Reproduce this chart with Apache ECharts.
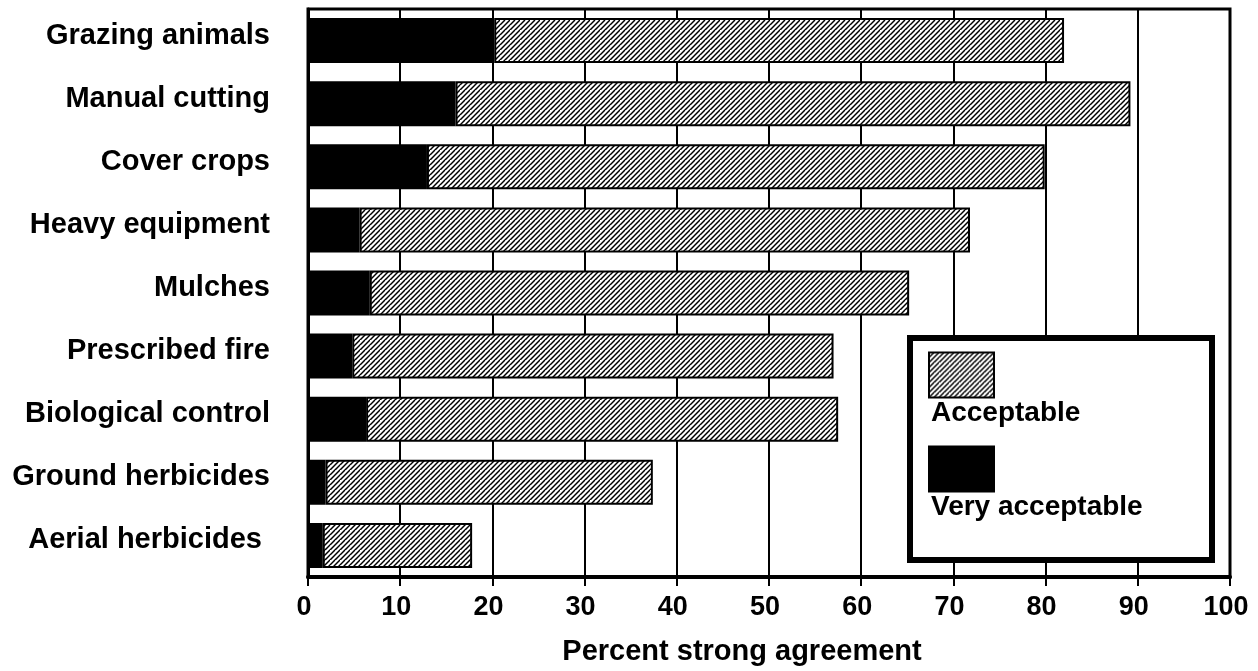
<!DOCTYPE html>
<html>
<head>
<meta charset="utf-8">
<script src="https://cdn.jsdelivr.net/npm/echarts@6/dist/echarts.min.js"></script>
<style>
html,body{margin:0;padding:0;background:#fff;}
#chart{width:1258px;height:671px;}
</style>
</head>
<body>
<div id="chart"></div>
<script>
const categories = ['Grazing animals','Manual cutting','Cover crops','Heavy equipment','Mulches','Prescribed fire','Biological control','Ground herbicides','Aerial herbicides '];
const veryAcceptable = [20.2, 16.0, 12.9, 5.6, 6.7, 4.8, 6.3, 1.9, 1.6];
const acceptable = [61.8, 73.2, 67.0, 66.2, 58.5, 52.2, 51.2, 35.5, 16.2];
const xTicks = [0,10,20,30,40,50,60,70,80,90,100];
const seriesNames = ['Acceptable','Very acceptable'];
const axisTitle = 'Percent strong agreement';

const FONT = '"Liberation Sans", Arial, sans-serif';

function hatch() {
  const s = 10, p = 5;
  const c = document.createElement('canvas');
  c.width = s; c.height = s;
  const g = c.getContext('2d');
  g.fillStyle = '#fff';
  g.fillRect(0,0,s,s);
  g.strokeStyle = '#000';
  g.lineWidth = 1.5;
  for (let k = -s; k <= 3*s; k += p) {
    g.beginPath();
    g.moveTo(0, k);
    g.lineTo(k, 0);
    g.stroke();
  }
  return c;
}
const hatchFill = {image: hatch(), repeat: 'repeat'};

const chart = echarts.init(document.getElementById('chart'), null, {renderer: 'canvas'});
chart.setOption({
  animation: false,
  backgroundColor: '#fff',
  grid: {left: 308, right: 28, top: 9, bottom: 94, show: true, borderColor: '#000', borderWidth: 3, containLabel: false, outerBoundsMode: 'none'},
  xAxis: {
    type: 'value', min: xTicks[0], max: xTicks[xTicks.length-1], interval: 10,
    name: axisTitle, nameLocation: 'middle', nameGap: 60,
    nameTextStyle: {fontFamily: FONT, fontWeight: 'bold', fontSize: 29, color: '#000', padding: [0, 54, 0, 0]},
    axisLine: {show: true, lineStyle: {color: '#000', width: 4}},
    axisTick: {show: true, length: 9, lineStyle: {color: '#000', width: 2}},
    axisLabel: {fontFamily: FONT, fontWeight: 'bold', fontSize: 27, color: '#000', margin: 17, padding: [0, 8, 0, 0]},
    splitLine: {show: true, lineStyle: {color: '#000', width: 2}}
  },
  yAxis: {
    type: 'category', data: categories, inverse: true,
    axisLine: {show: true, lineStyle: {color: '#000', width: 3}},
    axisTick: {show: false},
    splitLine: {show: false},
    axisLabel: {fontFamily: FONT, fontWeight: 'bold', fontSize: 29, color: '#000', margin: 38, verticalAlign: 'bottom', lineHeight: 10}
  },
  legend: {
    data: seriesNames,
    orient: 'vertical',
    left: 928, top: 298,
    padding: 0,
    itemWidth: 65, itemHeight: 45, itemGap: -60,
    selectedMode: false,
    icon: 'rect',
    z: 20,
    formatter: function (name) { return '\n' + name; },
    textStyle: {fontFamily: FONT, fontWeight: 'bold', fontSize: 28, lineHeight: 77, color: '#000', padding: [0, 0, 0, -68]},
    itemStyle: {borderColor: '#000', borderWidth: 2}
  },
  graphic: [{
    type: 'rect', z: 15,
    shape: {x: 910, y: 338, width: 302, height: 222},
    style: {fill: '#fff', stroke: '#000', lineWidth: 6}
  }],
  series: [
    {
      name: seriesNames[1], type: 'bar', stack: 'total', data: veryAcceptable,
      barWidth: 45,
      itemStyle: {color: '#000', borderColor: '#000', borderWidth: 2}
    },
    {
      name: seriesNames[0], type: 'bar', stack: 'total', data: acceptable,
      barWidth: 45,
      itemStyle: {color: hatchFill, borderColor: '#000', borderWidth: 2}
    }
  ]
});
</script>
</body>
</html>
